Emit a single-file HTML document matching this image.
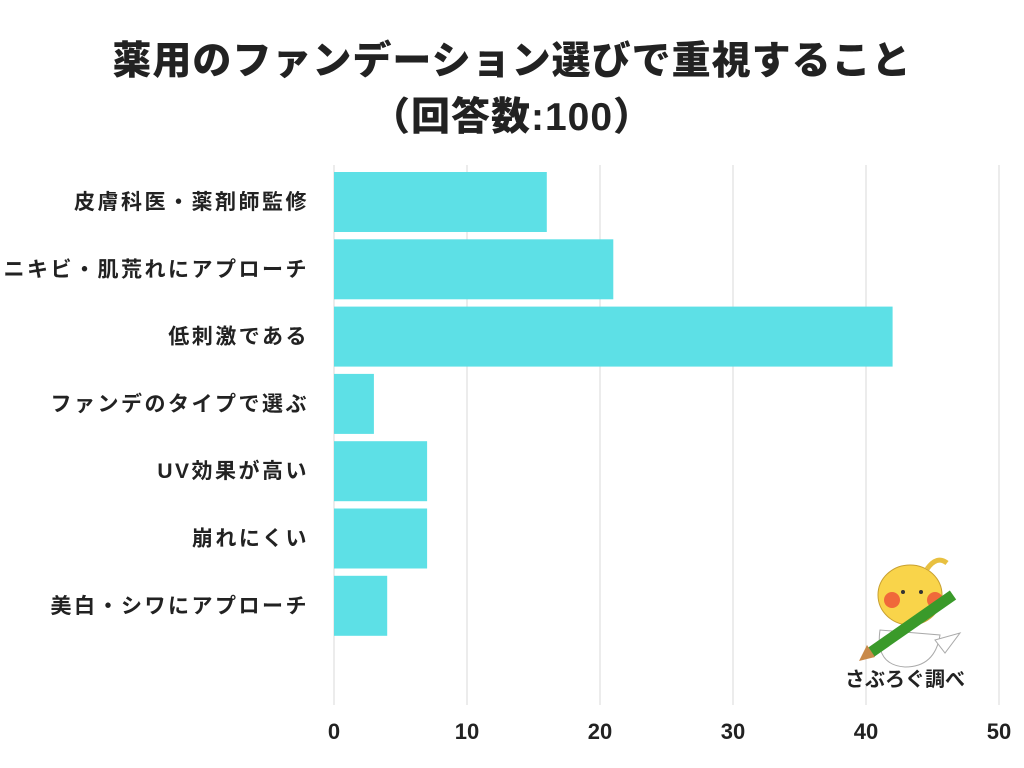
<!DOCTYPE html>
<html><head><meta charset="utf-8">
<style>
body{margin:0;background:#fff;width:1024px;height:768px;overflow:hidden;font-family:"Liberation Sans","Noto Sans CJK JP",sans-serif;}
.t{position:absolute;left:0;width:1024px;text-align:center;font-weight:900;color:#222;font-size:39px;letter-spacing:1px;}
</style></head><body>
<div class="t" style="top:30px">薬用のファンデーション選びで重視すること</div>
<div class="t" style="top:86px">（回答数:100）</div>
<svg id="c" width="1024" height="768" style="position:absolute;left:0;top:0"></svg>
<script>
const categories=["皮膚科医・薬剤師監修","ニキビ・肌荒れにアプローチ","低刺激である","ファンデのタイプで選ぶ","UV効果が高い","崩れにくい","美白・シワにアプローチ"];
const values=[16,21,42,3,7,7,4];
const ticks=[0,10,20,30,40,50];
const svg=document.getElementById('c');const NS='http://www.w3.org/2000/svg';
const x=v=>334+v*13.3;
const y=i=>172+i*67.3;
function mk(t,a){const e=document.createElementNS(NS,t);for(const k in a)e.setAttribute(k,a[k]);svg.appendChild(e);return e;}
ticks.forEach(t=>{
 const g=mk('line',{x1:x(t),x2:x(t),y1:165,y2:705,stroke:'#d8d8d8','stroke-width':1});
 
 
 const l=mk('text',{x:x(t),y:739,'text-anchor':'middle','font-size':22,'font-weight':'bold',fill:'#222'});
 l.textContent=t;
 
 
});
categories.forEach((c,i)=>{
 const b=mk('rect',{x:x(0),y:y(i),width:x(values[i])-x(0),height:60,fill:'#5de0e6'});
 
 
 const l=mk('text',{x:309,y:y(i)+37,'text-anchor':'end','font-size':21,'font-weight':'bold',fill:'#222','letter-spacing':'2.5'});
 l.textContent=c;
 
 
});
</script>
<svg width="140" height="140" style="position:absolute;left:835px;top:555px">
 <path d="M45 75 Q40 110 70 112 Q100 112 105 80 Z" fill="#fff" stroke="#aaa"/>
 <path d="M100 85 L125 78 L110 98 Z" fill="#fff" stroke="#aaa"/>
 <ellipse cx="75" cy="40" rx="32" ry="30" fill="#f9d44a" stroke="#c8a030"/>
 <path d="M92 14 Q102 0 112 8" stroke="#e8c040" stroke-width="5" fill="none"/>
 <circle cx="57" cy="45" r="8" fill="#f0693a"/><circle cx="100" cy="45" r="8" fill="#f0693a"/>
 <circle cx="68" cy="37" r="2" fill="#333"/><circle cx="86" cy="37" r="2" fill="#333"/>
 <line x1="35" y1="98" x2="118" y2="40" stroke="#3a9a2a" stroke-width="11"/>
 <polygon points="24,106 32,90 40,102" fill="#c98a4a"/>
 <text x="70" y="131" text-anchor="middle" font-size="20" font-weight="bold" fill="#222">さぶろぐ調べ</text>
</svg>
</body></html>
